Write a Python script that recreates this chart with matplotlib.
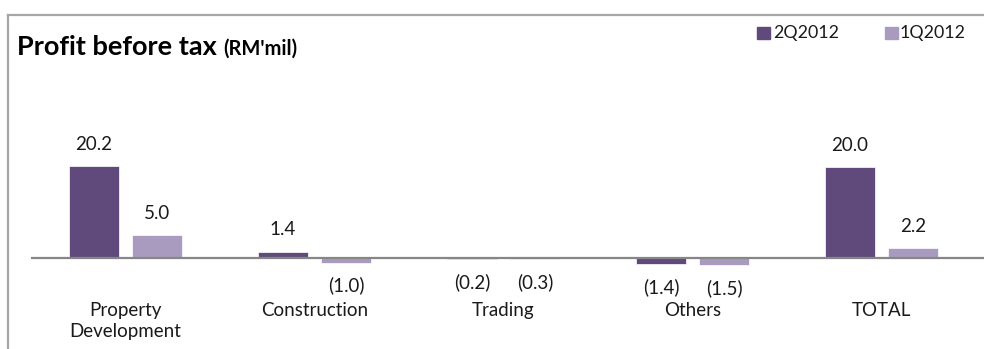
import matplotlib.pyplot as plt
from matplotlib.lines import Line2D
from matplotlib.patches import Rectangle
import numpy as np

# Data
categories = ["Property\nDevelopment", "Construction", "Trading", "Others", "TOTAL"]
q2_2012 = [20.2, 1.4, -0.2, -1.4, 20.0]
q1_2012 = [5.0, -1.0, -0.3, -1.5, 2.2]
series_names = ["2Q2012", "1Q2012"]

dark = "#604A7B"
light = "#A99BC0"
plt.rcParams["font.family"] = ["Lato", "DejaVu Sans"]

fig = plt.figure(figsize=(9.84, 3.49), dpi=100)
W, H = 984, 349

# axes: zero line at y=258 px, ~4.55 px per unit
ax = fig.add_axes([31 / W, 0, 953 / W, 1])
px_per_unit = 4.55
ax.set_ylim(-(H - 258) / px_per_unit, 258 / px_per_unit)
ax.set_xlim(-0.5, -0.5 + 953 / 189)
ax.axis("off")

x = np.arange(len(categories))
w = 0.265
off = 0.167
b1 = ax.bar(x - off, q2_2012, w, color=dark, edgecolor="white", linewidth=0.5)
b2 = ax.bar(x + off, q1_2012, w, color=light, edgecolor="white", linewidth=0.5)
ax.axhline(0, color="#868686", linewidth=1.6, zorder=3)


def fmt(v):
    return f"({abs(v):.1f})" if v < 0 else f"{v:.1f}"


for bars, vals in [(b1, q2_2012), (b2, q1_2012)]:
    for b, v in zip(bars, vals):
        xc = b.get_x() + b.get_width() / 2
        dy = 15.8 if v >= 0 else -16.5
        ax.annotate(fmt(v), (xc, v), xytext=(0, dy), textcoords="offset points",
                    ha="center", va="center", fontsize=13.5, color="#1a1a1a")

# category labels
for xi, c in zip(x, categories):
    ax.text(xi, -44 / px_per_unit, c, ha="center", va="top", fontsize=13.5,
            color="#1a1a1a", linespacing=1.3)

# frame lines (top and left)
fig.add_artist(Line2D([8 / W, 1], [1 - 15 / H, 1 - 15 / H], color="#A6A6A6", lw=1.6))
fig.add_artist(Line2D([8 / W, 8 / W], [0, 1 - 15 / H], color="#A6A6A6", lw=1.6))

# title, with the unit right after it
t = fig.text(17 / W, 1 - 55 / H, "Profit before tax", fontsize=19.5, fontweight="bold",
             va="baseline", ha="left", color="#000000")
fig.canvas.draw()
bb = t.get_window_extent()
fig.text(bb.x1 / W + 6 / W, 1 - 55 / H, "(RM'mil)", fontsize=14.5, fontweight="bold",
         va="baseline", ha="left", color="#000000")

# legend
for sx, tx, col, name in [(757, 773, dark, series_names[0]), (885, 900, light, series_names[1])]:
    fig.add_artist(Rectangle((sx / W, 1 - 39 / H), 13 / W, 12 / H, color=col,
                             transform=fig.transFigure))
    fig.text(tx / W, 1 - 33 / H, name, fontsize=12.8, va="center", ha="left", color="#1a1a1a")

fig.savefig("out.png", dpi=100)
